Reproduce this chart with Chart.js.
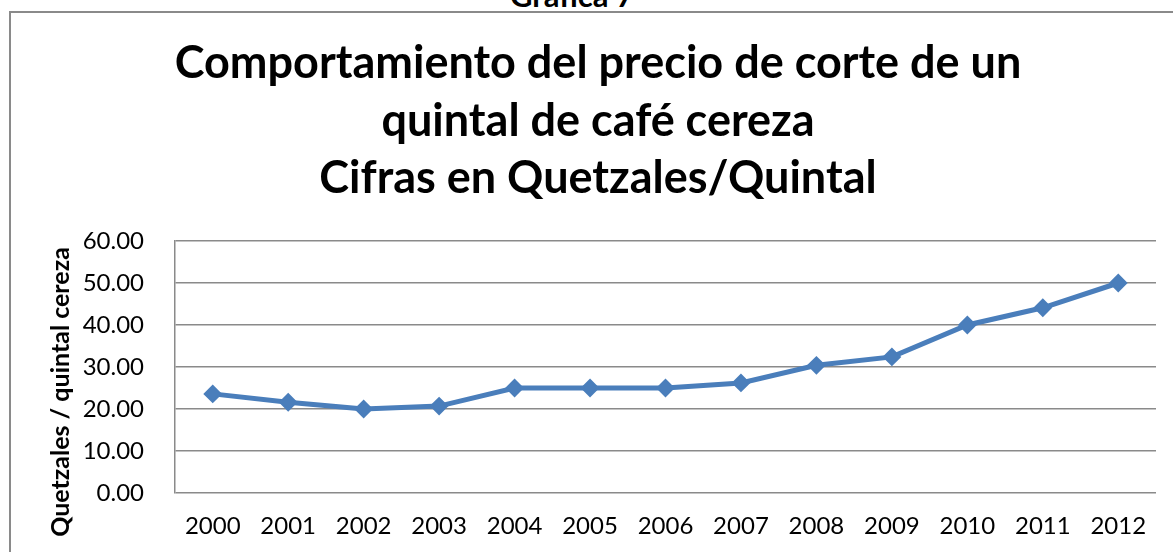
<!DOCTYPE html>
<html>
<head>
<meta charset="utf-8">
<script src="https://cdn.jsdelivr.net/npm/chart.js@4.4.0/dist/chart.umd.min.js"></script>
<style>
  body { margin: 0; background: #fff; overflow: hidden; }
  #wrap { position: relative; width: 1173px; height: 552px; overflow: hidden; }
  #frame { position: absolute; left: 9px; top: 11px; width: 1200px; height: 600px; border: 2px solid #8a8a8a; }
  #caption { position: absolute; left: 0; width: 1144px; top: -24px; line-height: 31px; text-align: center; font: bold 31px Lato; color: #000; }
  #chart-box { position: absolute; left: 0; top: 0; width: 1173px; height: 552px; }
</style>
</head>
<body>
<div id="wrap">
  <div id="frame"></div>
  <div id="caption">Gráfica 7</div>
  <div id="chart-box"><canvas id="myChart"></canvas></div>
</div>
<script>
let years = ["2000", "2001", "2002", "2003", "2004", "2005", "2006", "2007", "2008", "2009", "2010", "2011", "2012"];
let prices = [23.6, 21.6, 20.0, 20.7, 25.0, 25.0, 25.0, 26.2, 30.4, 32.4, 40.0, 44.1, 50.0];
let yTicks = [0, 10, 20, 30, 40, 50, 60];
let chartTitle = [
  "Comportamiento del precio de corte de un",
  "quintal de café cereza",
  "Cifras en Quetzales/Quintal"
];
let yAxisTitle = "Quetzales / quintal cereza";

let gridGray = "#8a8a8a";
let lineBlue = "#4A7EBB";

// rotated axis title, sits a bit below the middle of the plot like the original
let yTitlePlugin = {
  id: "yTitle",
  afterDraw(chart) {
    let ctx = chart.ctx;
    let area = chart.chartArea;
    ctx.save();
    ctx.translate(61, area.bottom - 101);
    ctx.rotate(-Math.PI / 2);
    ctx.font = "bold 25px Lato";
    ctx.fillStyle = "#000";
    ctx.textAlign = "center";
    ctx.textBaseline = "middle";
    ctx.fillText(yAxisTitle, 0, 0);
    ctx.restore();
  }
};

let ctx = document.getElementById("myChart").getContext("2d");
let myChart = new Chart(ctx, {
  type: "line",
  data: {
    labels: years,
    datasets: [{
      label: "Precio de corte",
      data: prices,
      borderColor: lineBlue,
      backgroundColor: lineBlue,
      borderWidth: 5,
      tension: 0,
      pointStyle: "rectRot",
      pointRadius: 8,
      pointBorderWidth: 2,
      pointBackgroundColor: lineBlue,
      pointBorderColor: lineBlue
    }]
  },
  options: {
    responsive: true,
    maintainAspectRatio: false,
    animation: false,
    layout: { padding: { left: 40, right: 17, top: 0, bottom: 0 } },
    plugins: {
      legend: { display: false },
      tooltip: { enabled: false },
      title: {
        display: true,
        text: chartTitle,
        color: "#000",
        font: { family: "Lato", size: 45, weight: "bold", lineHeight: "57.5px" },
        padding: { top: 35, bottom: 33.5 }
      }
    },
    scales: {
      x: {
        offset: true,
        grid: { display: false, drawTicks: false },
        border: { display: false },
        ticks: { color: "#000", font: { family: "Lato", size: 24 }, padding: 19, maxRotation: 0, autoSkip: false },
        afterFit(scale) { scale.height = 59; }
      },
      y: {
        min: yTicks[0],
        max: yTicks[yTicks.length - 1],
        grid: { color: gridGray, lineWidth: 1.5, drawTicks: false },
        border: { display: true, color: gridGray, width: 1.5 },
        ticks: {
          stepSize: yTicks[1] - yTicks[0],
          color: "#000",
          font: { family: "Lato", size: 24 },
          padding: 31,
          callback: value => value.toFixed(2)
        },
        afterFit(scale) { scale.width = 135; }
      }
    }
  },
  plugins: [yTitlePlugin]
});
</script>
</body>
</html>
